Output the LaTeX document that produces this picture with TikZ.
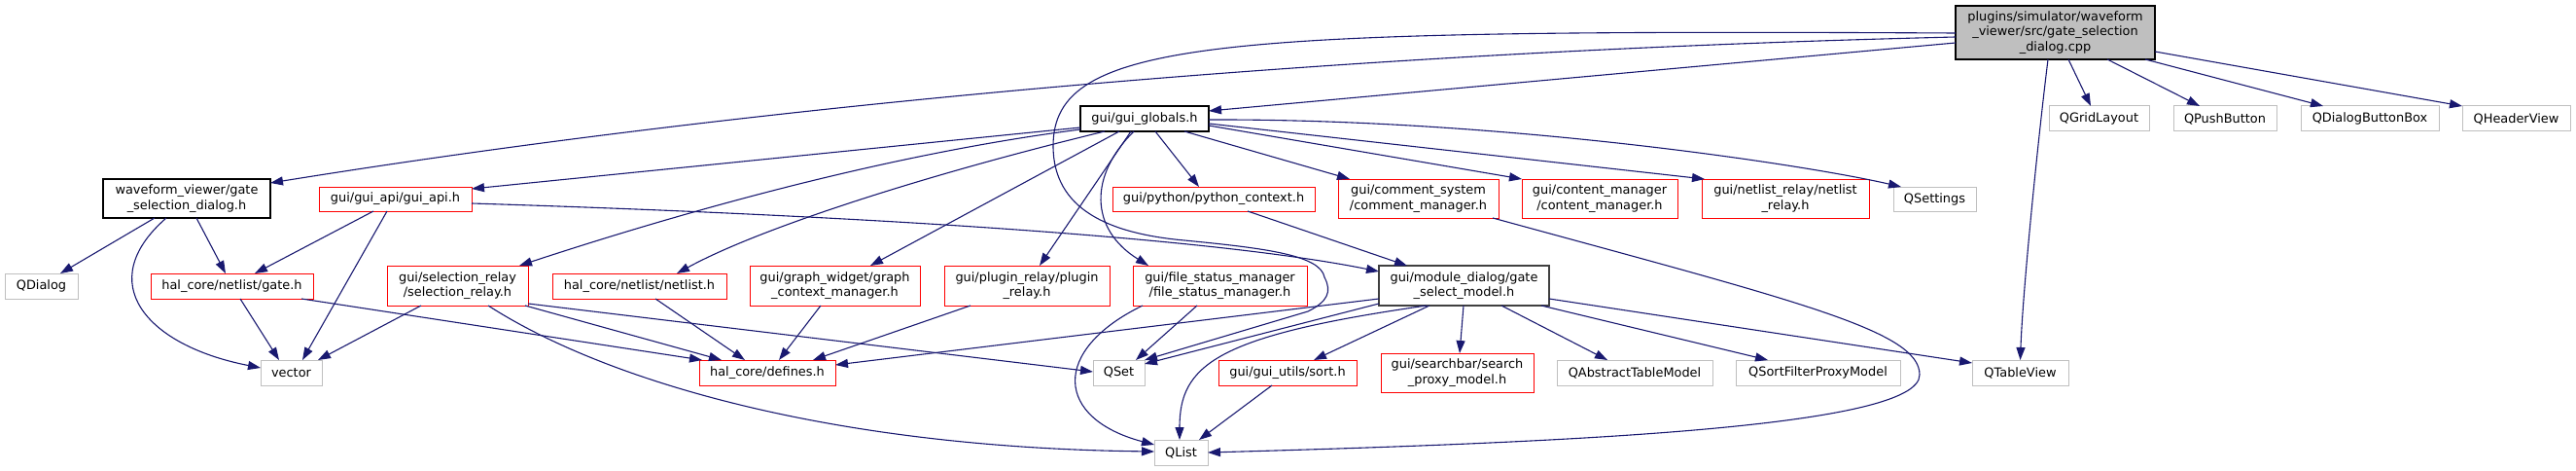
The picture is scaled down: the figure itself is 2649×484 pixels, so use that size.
\documentclass[tikz,border=0pt]{standalone}
\usepackage{fontspec}
\setmainfont{DejaVu Sans}
\usetikzlibrary{arrows.meta}
\definecolor{edgeblue}{HTML}{191970}
\definecolor{redb}{HTML}{FF0000}
\definecolor{grayb}{HTML}{BFBFBF}
\definecolor{darkb}{HTML}{404040}
\begin{document}
\begin{tikzpicture}[x=1pt,y=-1pt,
  font=\fontsize{12.9}{15.3}\selectfont,
  box/.style={rectangle, draw, line width=1pt, inner sep=0pt, outer sep=0pt, align=center, anchor=north west, fill=white},
  redbox/.style={box, draw=redb},
  graybox/.style={box, draw=grayb},
  blackbox/.style={box, draw=black, line width=1.3pt},
  darkbox/.style={box, draw=darkb, line width=1.5pt},
  mainbox/.style={box, draw=black, line width=1.3pt, fill=grayb},
  dep/.style={draw=edgeblue, line width=1.1pt, -{Triangle[length=13pt,width=9pt]}}]
\useasboundingbox (0,0) rectangle (2649,484);

% nodes
\node[mainbox, minimum width=205pt, minimum height=55pt] (main) at (2011,6) {plugins/simulator/waveform\\\_viewer/src/gate\_selection\\\_dialog.cpp};
\node[graybox, minimum width=103pt, minimum height=26pt] (gridl) at (2107,109) {QGridLayout};
\node[graybox, minimum width=106pt, minimum height=26pt] (pushb) at (2235,109) {QPushButton};
\node[graybox, minimum width=142pt, minimum height=26pt] (dbb) at (2366,109) {QDialogButtonBox};
\node[graybox, minimum width=111pt, minimum height=26pt] (headv) at (2532,109) {QHeaderView};
\node[blackbox, minimum width=132pt, minimum height=26pt] (globals) at (1111,109) {gui/gui\_globals.h};
\node[blackbox, minimum width=172pt, minimum height=40pt] (wave) at (106,184) {waveform\_viewer/gate\\\_selection\_dialog.h};
\node[redbox, minimum width=157pt, minimum height=25pt] (guiapi) at (328,192) {gui/gui\_api/gui\_api.h};
\node[redbox, minimum width=208pt, minimum height=25pt] (python) at (1144,192) {gui/python/python\_context.h};
\node[redbox, minimum width=165pt, minimum height=40pt] (comment) at (1376,184) {gui/comment\_system\\/comment\_manager.h};
\node[redbox, minimum width=160pt, minimum height=40pt] (content) at (1565,184) {gui/content\_manager\\/content\_manager.h};
\node[redbox, minimum width=172pt, minimum height=40pt] (nlrelay) at (1750,184) {gui/netlist\_relay/netlist\\\_relay.h};
\node[graybox, minimum width=85pt, minimum height=25pt] (qsettings) at (1947,192) {QSettings};
\node[graybox, minimum width=75pt, minimum height=26pt] (qdialog) at (5,281) {QDialog};
\node[redbox, minimum width=167pt, minimum height=26pt] (gate) at (155,281) {hal\_core/netlist/gate.h};
\node[redbox, minimum width=145pt, minimum height=41pt] (selrelay) at (398,273) {gui/selection\_relay\\/selection\_relay.h};
\node[redbox, minimum width=179pt, minimum height=26pt] (netlist) at (568,281) {hal\_core/netlist/netlist.h};
\node[redbox, minimum width=175pt, minimum height=41pt] (graphctx) at (771,273) {gui/graph\_widget/graph\\\_context\_manager.h};
\node[redbox, minimum width=170pt, minimum height=41pt] (plugin) at (971,273) {gui/plugin\_relay/plugin\\\_relay.h};
\node[redbox, minimum width=179pt, minimum height=41pt] (filestat) at (1165,273) {gui/file\_status\_manager\\/file\_status\_manager.h};
\node[darkbox, minimum width=175pt, minimum height=41pt] (gsm) at (1418,273) {gui/module\_dialog/gate\\\_select\_model.h};
\node[graybox, minimum width=63pt, minimum height=26pt] (vector) at (268,370) {vector};
\node[redbox, minimum width=140pt, minimum height=26pt] (defines) at (719,370) {hal\_core/defines.h};
\node[graybox, minimum width=53pt, minimum height=26pt] (qset) at (1124,370) {QSet};
\node[redbox, minimum width=142pt, minimum height=26pt] (sort) at (1253,370) {gui/gui\_utils/sort.h};
\node[redbox, minimum width=157pt, minimum height=40pt] (search) at (1420,363) {gui/searchbar/search\\\_proxy\_model.h};
\node[graybox, minimum width=160pt, minimum height=26pt] (qabs) at (1601,370) {QAbstractTableModel};
\node[graybox, minimum width=169pt, minimum height=26pt] (qsfpm) at (1785,370) {QSortFilterProxyModel};
\node[graybox, minimum width=99pt, minimum height=26pt] (qtable) at (2028,370) {QTableView};
\node[graybox, minimum width=55pt, minimum height=26pt] (qlist) at (1187,452) {QList};

% edges from main
\draw[dep] (main.west |- 0,38) .. controls (1300,55) and (700,120) .. (wave.east |- 0,188);
\draw[dep] (main.west |- 0,44) -- (globals.east |- 0,114);
\draw[dep] (main.west |- 0,34) .. controls (1250,30) and (1083,40) .. (1083,150)
   .. controls (1083,215) and (1140,240) .. (1218,247)
   .. controls (1300,255) and (1358,262) .. (1362,285)
   .. controls (1370,300) and (1365,310) .. (1345,320) -- (qset.north east);
\draw[dep] (main.south -| 2106,0) .. controls (2095,150) and (2080,300) .. (qtable.north);
\draw[dep] (main.south -| 2127,0) -- (gridl.north -| 2150,0);
\draw[dep] (main.south -| 2167,0) -- (pushb.north -| 2262,0);
\draw[dep] (main.south -| 2206,0) -- (dbb.north -| 2389,0);
\draw[dep] (main.east |- 0,53) -- (headv.north west);

% edges from gui_globals
\draw[dep] (globals.west |- 0,131) -- (guiapi.east |- 0,194);
\draw[dep] (globals.west |- 0,133) .. controls (900,160) and (680,225) .. (selrelay.north -| 534,0);
\draw[dep] (globals.south -| 1136,0) .. controls (950,180) and (780,235) .. (netlist.north -| 696,0);
\draw[dep] (globals.south -| 1151,0) -- (graphctx.north -| 895,0);
\draw[dep] (globals.south -| 1163,0) -- (plugin.north -| 1069,0);
\draw[dep] (globals.south -| 1166,0) .. controls (1120,180) and (1120,235) .. (filestat.north -| 1181,0);
\draw[dep] (globals.south -| 1188,0) -- (python.north -| 1233,0);
\draw[dep] (globals.south -| 1218,0) -- (comment.north -| 1388,0);
\draw[dep] (globals.east |- 0,129) -- (content.north west);
\draw[dep] (globals.east |- 0,127) -- (nlrelay.north -| 1753,0);
\draw[dep] (globals.east |- 0,123) .. controls (1550,122) and (1860,170) .. (qsettings.north -| 1955,0);

% edges from waveform dialog header
\draw[dep] (wave.south -| 159,0) -- (qdialog.north -| 62,0);
\draw[dep] (wave.south -| 202,0) -- (gate.north -| 232,0);
\draw[dep] (wave.south -| 171,0) .. controls (95,290) and (150,355) .. (vector.west |- 0,378);

% edges from gui_api
\draw[dep] (guiapi.south -| 384,0) -- (gate.north -| 262,0);
\draw[dep] (guiapi.south -| 398,0) -- (vector.north -| 311,0);
\draw[dep] (guiapi.east |- 0,209) .. controls (900,222) and (1250,245) .. (gsm.west |- 0,279);

% edges from gate.h
\draw[dep] (gate.south -| 247,0) -- (vector.north -| 287,0);
\draw[dep] (gate.south -| 310,0) -- (defines.north -| 722,0);

% edges from selection_relay
\draw[dep] (selrelay.south -| 433,0) -- (vector.north -| 327,0);
\draw[dep] (selrelay.south -| 540,0) -- (defines.north -| 742,0);
\draw[dep] (selrelay.east |- 0,312) -- (qset.west |- 0,382);
\draw[dep] (selrelay.south -| 502,0) .. controls (620,390) and (850,460) .. (qlist.west |- 0,464);

% netlist, graph context, plugin relay
\draw[dep] (netlist.south -| 674,0) -- (defines.north -| 766,0);
\draw[dep] (graphctx.south -| 844,0) -- (defines.north -| 801,0);
\draw[dep] (plugin.south -| 998,0) -- (defines.north -| 836,0);

% edges from gate_select_model
\draw[dep] (gsm.west |- 0,307) -- (defines.east |- 0,375);
\draw[dep] (gsm.west |- 0,312) -- (qset.east |- 0,374);
\draw[dep] (gsm.south -| 1467,0) .. controls (1250,345) and (1213,375) .. (qlist.north -| 1213,0);
\draw[dep] (gsm.south -| 1470,0) -- (sort.north -| 1351,0);
\draw[dep] (gsm.south -| 1505,0) -- (search.north -| 1501,0);
\draw[dep] (gsm.south -| 1544,0) -- (qabs.north -| 1653,0);
\draw[dep] (gsm.south -| 1585,0) -- (qsfpm.north -| 1818,0);
\draw[dep] (gsm.east |- 0,307) -- (qtable.west |- 0,373);

% file status manager
\draw[dep] (filestat.south -| 1231,0) -- (qset.north -| 1168,0);
\draw[dep] (filestat.south -| 1175,0) .. controls (1080,360) and (1085,430) .. (qlist.west |- 0,457);

% sort, python, comment
\draw[dep] (sort.south -| 1308,0) -- (qlist.north -| 1233,0);
\draw[dep] (python.south -| 1283,0) -- (gsm.north -| 1447,0);
\draw[dep] (comment.south -| 1535,0) .. controls (1850,310) and (1974,340) .. (1974,385)
   .. controls (1975,440) and (1600,455) .. (qlist.east);
\end{tikzpicture}
\end{document}
